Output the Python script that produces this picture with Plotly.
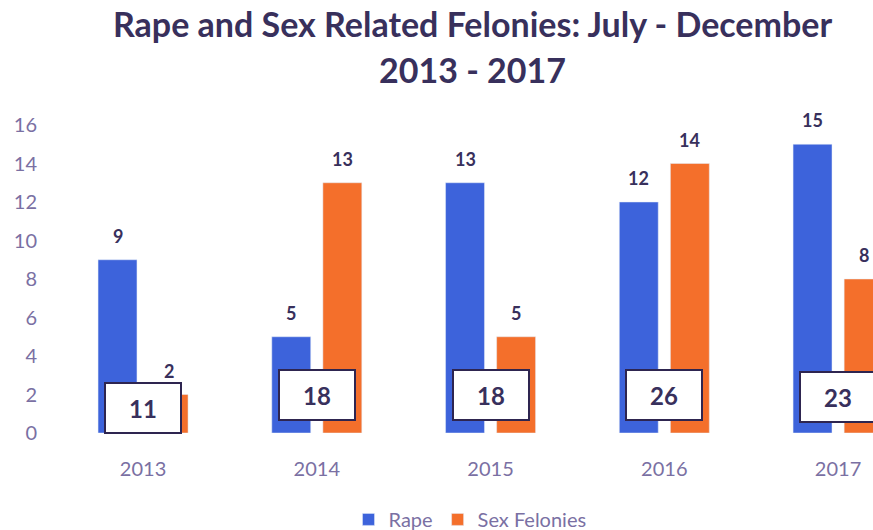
import plotly.graph_objects as go

# Data
years = ["2013", "2014", "2015", "2016", "2017"]
rape = [9, 5, 13, 12, 15]
sex_felonies = [2, 13, 5, 14, 8]
totals = [r + s for r, s in zip(rape, sex_felonies)]

BLUE = "#3d63db"
ORANGE = "#f46f2b"
INK = "#38305c"
TICK = "#7a70a3"
FONT = "Lato"

fig = go.Figure()
fig.add_trace(go.Bar(name="Rape", x=years, y=rape, marker_color=BLUE))
fig.add_trace(go.Bar(name="Sex Felonies", x=years, y=sex_felonies, marker_color=ORANGE))

annotations = []
# value labels above each bar (x given as category index)
for i in range(len(years)):
    for val, dx in ((rape[i], -25.5), (sex_felonies[i], 25.5)):
        annotations.append(dict(
            x=i, y=val, xref="x", yref="y", text=str(val), showarrow=False,
            xshift=dx, yshift=24, yanchor="middle",
            font=dict(family=FONT, size=18, color=INK, weight="bold"),
        ))

# boxed totals near the base of each group
box_y = [1.3, 1.95, 1.95, 1.95, 1.85]
for i in range(len(years)):
    annotations.append(dict(
        x=i, y=box_y[i], xref="x", yref="y", text=str(totals[i]), showarrow=False,
        width=70, height=44, bgcolor="white", bordercolor="#2e2550", borderwidth=2,
        borderpad=2, font=dict(family=FONT, size=24, color=INK, weight="bold"),
    ))

# two-line title
for txt, yp in (("Rape and Sex Related Felonies: July - December", 1.33), ("2013 - 2017", 1.179)):
    annotations.append(dict(
        x=(472 - 48) / 825, y=yp, xref="paper", yref="paper", text=txt, showarrow=False,
        xanchor="center", yanchor="middle",
        font=dict(family=FONT, size=34, color=INK, weight="bold"),
    ))

fig.update_layout(
    width=873, height=530,
    margin=dict(l=48, r=0, t=125, b=97),
    paper_bgcolor="white", plot_bgcolor="white",
    barmode="group", bargap=0.412, bargroupgap=0.238,
    annotations=annotations,
    showlegend=True,
    legend=dict(
        orientation="h", xref="paper", x=(470 - 48) / 825, xanchor="center",
        yref="container", y=0.02, yanchor="middle",
        font=dict(family=FONT, size=20, color=TICK),
        itemwidth=30, traceorder="normal",
    ),
    xaxis=dict(
        type="category", range=[-0.547, 4.201], showgrid=False, showline=False,
        zeroline=False, ticks="", ticklabelstandoff=22,
        tickfont=dict(family=FONT, size=20, color=TICK),
    ),
    yaxis=dict(
        range=[0, 16], dtick=2, showgrid=False, showline=False, zeroline=False,
        ticks="", ticklabelstandoff=10,
        tickfont=dict(family=FONT, size=20, color=TICK),
    ),
)

fig.write_html("out.html")
